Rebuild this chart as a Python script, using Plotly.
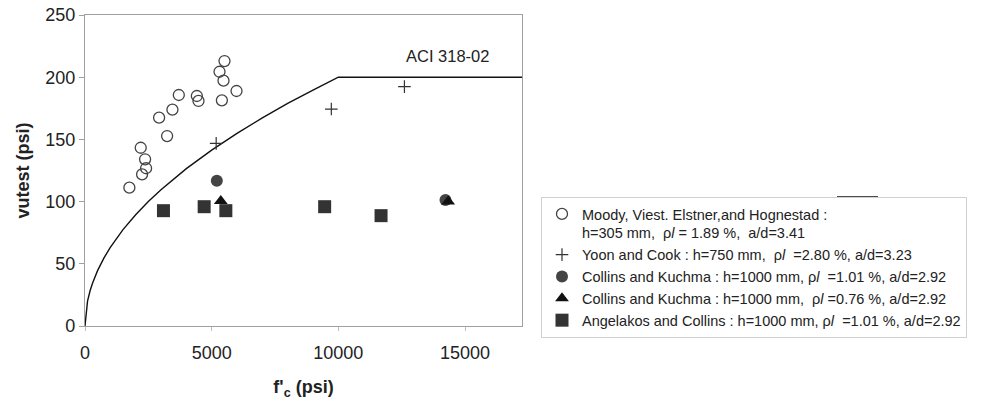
import plotly.graph_objects as go

# ---- data ----
moody_fc = [5506, 5310, 5467, 5981, 3703, 4415, 4480, 5403, 3451, 2925, 3241, 2200, 2372, 2411, 2253, 1752]
moody_v = [213, 204.4, 197.2, 188.9, 185.7, 184.9, 180.9, 181.4, 173.9, 167.5, 152.7, 143.3, 134, 126.8, 121.9, 111.2]

yoon_fc = [5178, 9723, 12609]
yoon_v = [146.8, 174.4, 192.4]

ck1_fc = [5204, 14229]
ck1_v = [116.8, 101.3]

ck2_fc = [5360, 14335]
ck2_v = [100.5, 100.0]

ac_fc = [3097, 4704, 5560, 9460, 11686]
ac_v = [92.7, 95.9, 92.7, 95.9, 88.7]

aci_fc = [0, 50, 100, 200, 300, 500, 750, 1000, 1500, 2000, 2500, 3000, 3500, 4000,
          5000, 6000, 7000, 8000, 9000, 10000, 17250]
aci_v = [0, 14.1, 20.0, 28.3, 34.6, 44.7, 54.8, 63.2, 77.5, 89.4, 100.0, 109.5, 118.3, 126.5,
         141.4, 154.9, 167.3, 178.9, 189.7, 200.0, 200.0]

x_ticks = [0, 5000, 10000, 15000]
y_ticks = [0, 50, 100, 150, 200, 250]

rho = "ρ<i>l</i>"
labels = [
    "Moody, Viest. Elstner,and Hognestad :<br>h=305 mm,  " + rho + " = 1.89 %,  a/d=3.41",
    "Yoon and Cook : h=750 mm,  " + rho + "  =2.80 %, a/d=3.23",
    "Collins and Kuchma : h=1000 mm, " + rho + "  =1.01 %, a/d=2.92",
    "Collins and Kuchma : h=1000 mm,  " + rho + " =0.76 %, a/d=2.92",
    "Angelakos and Collins : h=1000 mm, " + rho + "  =1.01 %, a/d=2.92",
]

FONT = "Liberation Sans, Arial, sans-serif"

fig = go.Figure()

fig.add_trace(go.Scatter(x=aci_fc, y=aci_v, mode="lines", line=dict(color="#111", width=1.4),
                         showlegend=False, hoverinfo="skip"))

fig.add_trace(go.Scatter(x=moody_fc, y=moody_v, mode="markers", name=labels[0],
                         marker=dict(symbol="circle-open", size=11, color="#444",
                                     line=dict(width=1.3, color="#444"))))
fig.add_trace(go.Scatter(x=yoon_fc, y=yoon_v, mode="markers", name=labels[1],
                         marker=dict(symbol="cross-thin-open", size=9, color="#333",
                                     line=dict(width=1.2, color="#333"))))
fig.add_trace(go.Scatter(x=ck1_fc, y=ck1_v, mode="markers", name=labels[2],
                         marker=dict(symbol="circle", size=12, color="#444")))
fig.add_trace(go.Scatter(x=ck2_fc, y=ck2_v, mode="markers", name=labels[3],
                         marker=dict(symbol="triangle-up", size=12, color="#111")))
fig.add_trace(go.Scatter(x=ac_fc, y=ac_v, mode="markers", name=labels[4],
                         marker=dict(symbol="square", size=13, color="#333")))

fig.add_annotation(x=14328, y=217.3, text="ACI 318-02", showarrow=False,
                   font=dict(family=FONT, size=16.5, color="#222"))

# short line segment at top of legend box
fig.add_shape(type="line", xref="paper", yref="paper",
              x0=(837 - 85) / 437, x1=(878 - 85) / 437,
              y0=(326 - 197) / 311, y1=(326 - 197) / 311,
              line=dict(color="#111", width=1.5))

fig.update_layout(
    width=990, height=400,
    margin=dict(l=85, r=468, t=15, b=74, autoexpand=False),
    paper_bgcolor="white", plot_bgcolor="white",
    font=dict(family=FONT, size=18, color="#222"),
    showlegend=True,
    legend=dict(
        x=(541 - 85) / 437, y=(326 - 197) / 311, xanchor="left", yanchor="top",
        font=dict(family=FONT, size=14.5, color="#222"),
        bordercolor="#d0d0d0", borderwidth=1, bgcolor="white",
        valign="top", itemwidth=30, tracegroupgap=0,
    ),
)

fig.update_xaxes(range=[0, 17250], tickvals=x_ticks, ticktext=[str(t) for t in x_ticks],
                 showgrid=False, zeroline=False, showline=True, linecolor="#a0a0a0",
                 linewidth=1.2, mirror=True, ticks="outside", ticklen=4, tickcolor="#c0c0c0",
                 ticklabelstandoff=6, automargin=False,
                 tickfont=dict(family=FONT, size=18, color="#222"),
                 title=dict(text="<b>f'<sub>c</sub> (psi)</b>", font=dict(family=FONT, size=18, color="#222"),
                            standoff=18))
fig.update_yaxes(range=[0, 250], tickvals=y_ticks, ticktext=[str(t) for t in y_ticks],
                 showgrid=False, zeroline=False, showline=True, linecolor="#a0a0a0",
                 linewidth=1.2, mirror=True, ticks="outside", ticklen=5, tickcolor="#a0a0a0",
                 automargin=False,
                 tickfont=dict(family=FONT, size=18, color="#222"),
                 title=dict(text="<b>vutest (psi)</b>", font=dict(family=FONT, size=18, color="#222"),
                            standoff=10))

fig.write_html("out.html")
